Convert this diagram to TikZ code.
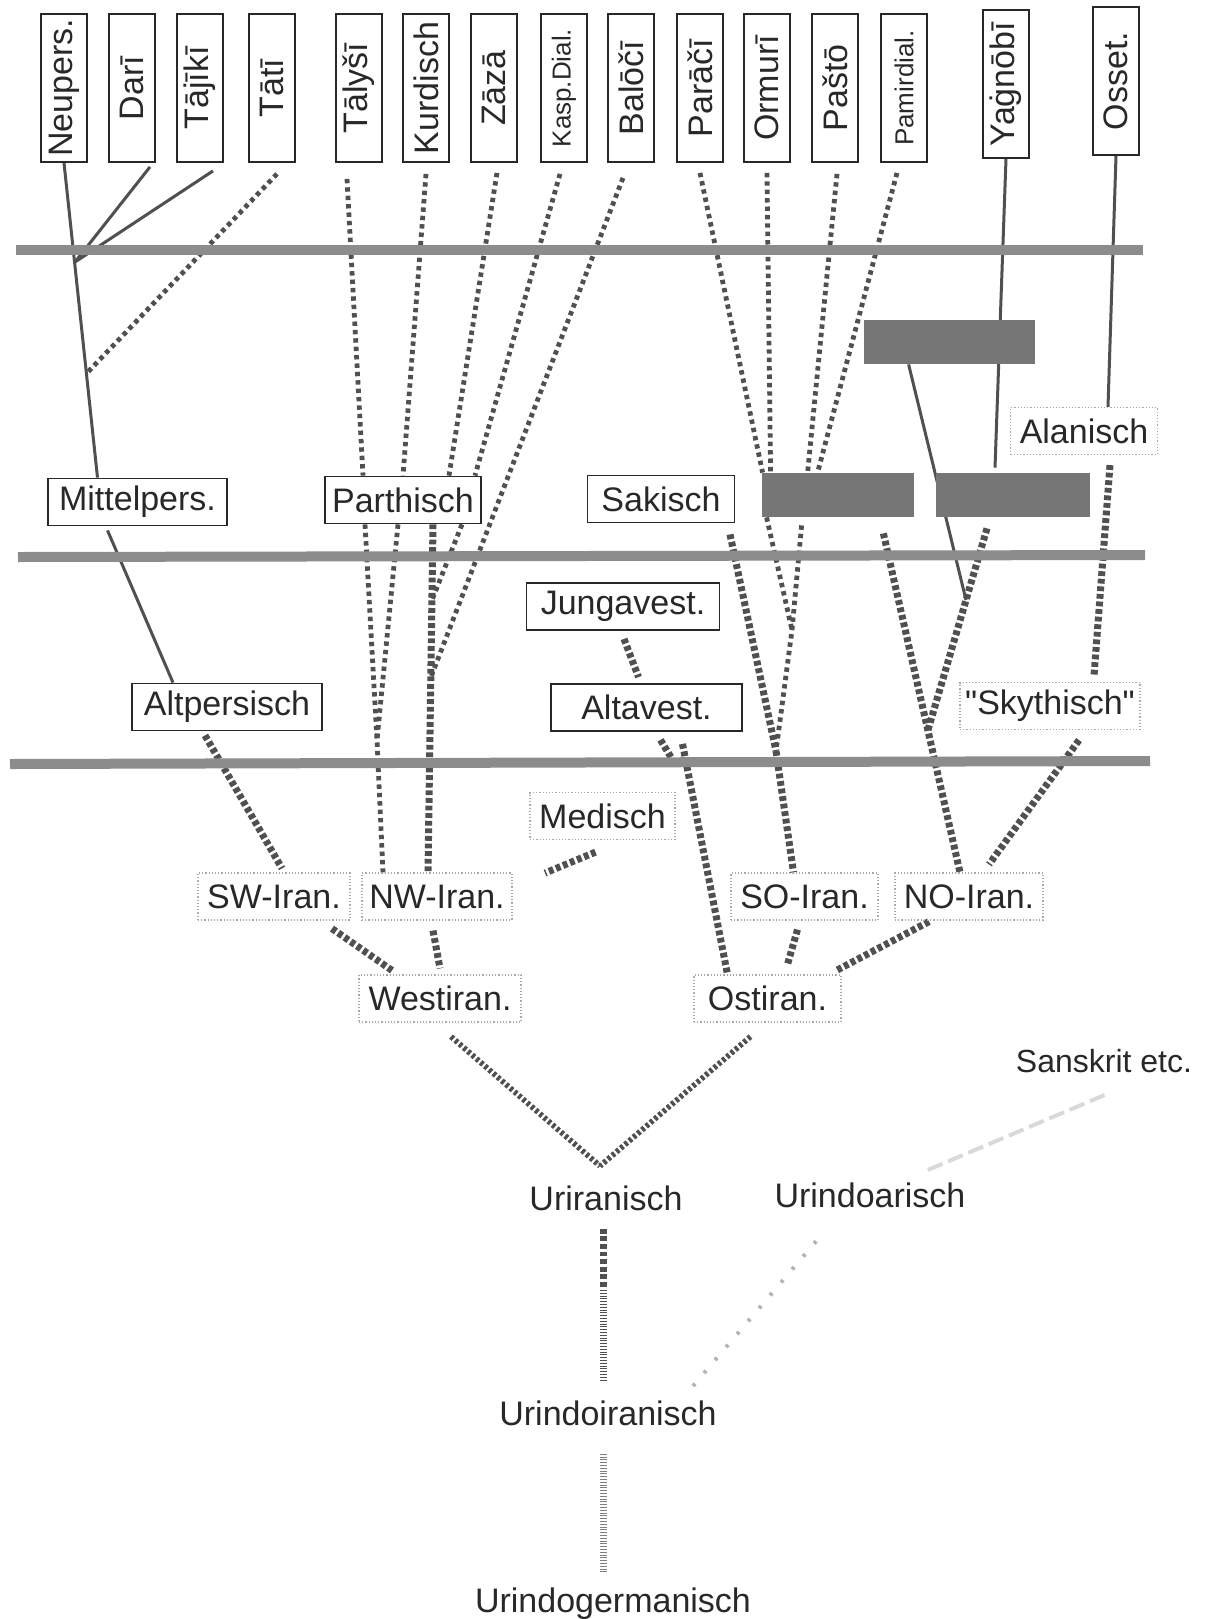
\documentclass[tikz,border=0pt]{standalone}
\usepackage{fontspec}
\setmainfont{Liberation Sans}
\newfontfamily\qfont{Liberation Sans}
\definecolor{linegray}{RGB}{80,80,80}
\definecolor{bandgray}{RGB}{140,140,140}
\definecolor{bargray}{RGB}{118,118,118}
\definecolor{textgray}{RGB}{40,40,40}
\definecolor{dotgray}{RGB}{170,170,170}
\pgfdeclarelayer{lines}
\pgfdeclarelayer{bands}
\pgfsetlayers{lines,bands,main}
\tikzset{
  lang/.style={text=textgray, font=\fontsize{17}{20}\selectfont, inner sep=0pt},
  small/.style={font=\fontsize{13}{15}\selectfont},
  tbox/.style={lang, draw=textgray, line width=0.9pt, rotate=90,
               minimum width=74pt, minimum height=23pt},
  lbox/.style={lang, draw=textgray, line width=0.9pt, minimum height=23.5pt},
  dbox/.style={lang, draw=dotgray, densely dotted, line width=0.6pt, minimum height=23.5pt},
  gbar/.style={fill=bargray, draw=none, inner sep=0pt, minimum height=22pt},
  band/.style={bandgray, line width=5pt},
  sline/.style={linegray, line width=1.5pt},
  fdot/.style={linegray, line width=2.4pt, dash pattern=on 2.2pt off 2pt},
  hdot/.style={linegray, line width=3.5pt, dash pattern=on 2.4pt off 1.4pt},
  mdot/.style={linegray, line width=2.8pt, dash pattern=on 1.6pt off 1.2pt},
  hatch/.style={linegray, line width=3.5pt, dash pattern=on 0.5pt off 0.9pt},
  sdot/.style={gray!60, line width=2pt, dash pattern=on 1.5pt off 7pt},
  faint/.style={gray!30, line width=2pt, dash pattern=on 8pt off 3pt},
}

\begin{document}
\begin{tikzpicture}[x=0.5pt, y=-0.5pt]
  \useasboundingbox (0,0) rectangle (1214,1619);
  % modern languages
  \node[tbox] (neup) at (64,88) {Neupers.};
  \node[tbox] (dari) at (132,88) {Darī};
  \node[tbox] (tajk) at (200,88) {Tājīkī};
  \node[tbox] (tati) at (272,88) {Tātī};
  \node[tbox] (taly) at (359,88) {Tālyšī};
  \node[tbox] (kurd) at (426,88) {Kurdisch};
  \node[tbox] (zaza) at (494,88) {Zāzā};
  \node[tbox,small] (kasp) at (564,88) {Kasp.Dial.};
  \node[tbox] (balo) at (631,88) {Balōčī};
  \node[tbox] (parc) at (700,88) {Parāčī};
  \node[tbox] (ormu) at (767,88) {Ormurī};
  \node[tbox] (past) at (835,88) {Paštō};
  \node[tbox,small] (pami) at (904,88) {Pamirdial.};
  \node[tbox] (yagn) at (1006,84) {Yaġnōbī};
  \node[tbox] (osse) at (1116,81) {Osset.};
  % middle and old stages
  \node[gbar, minimum width=85.5pt] (r1) at (949.5,342) {};
  \node[gbar, minimum width=76pt] (r2) at (838,495) {};
  \node[gbar, minimum width=77pt] (r3) at (1013,495) {};
  \node[lbox, minimum width=89.5pt] (mitt) at (137.5,502) {Mittelpers.};
  \node[lbox, minimum width=78pt] (part) at (403,500) {Parthisch};
  \node[lbox, minimum width=73.5pt] (saki) at (661,499) {Sakisch};
  \node[dbox, minimum width=73.5pt] (alan) at (1084,431) {Alanisch};
  \node[lbox, minimum width=96.5pt] (jung) at (623,606.5) {Jungavest.};
  \node[lbox, minimum width=95.5pt] (altv) at (646.5,707.5) {Altavest.};
  \node[lbox, minimum width=95pt] (altp) at (227,707) {Altpersisch};
  \node[dbox, minimum width=90pt] (skyt) at (1050,706) {\qfont"Skythisch"};
  \node[dbox, minimum width=72.5pt] (medi) at (602.5,816) {Medisch};
  \node[dbox, minimum width=76pt] (swir) at (274,896.5) {SW-Iran.};
  \node[dbox, minimum width=75pt] (nwir) at (437,896.5) {NW-Iran.};
  \node[dbox, minimum width=73.5pt] (soir) at (804.5,896.5) {SO-Iran.};
  \node[dbox, minimum width=74pt] (noir) at (969,896.5) {NO-Iran.};
  \node[dbox, minimum width=81pt] (west) at (440,998.5) {Westiran.};
  \node[dbox, minimum width=73.5pt] (osti) at (767.5,998.5) {Ostiran.};
  % proto languages
  \node[lang, anchor=base] (urir) at (606,1210) {Uriranisch};
  \node[lang, anchor=base] (uria) at (870,1207) {Urindoarisch};
  \node[lang, anchor=base, font=\fontsize{16}{19}\selectfont] (sans) at (1104,1072) {Sanskrit etc.};
  \node[lang, anchor=base] (uiir) at (608,1425) {Urindoiranisch};
  \node[lang, anchor=base] (uig) at (613,1612) {Urindogermanisch};
  % junctions
  \coordinate (npj) at (75,262);
  \coordinate (ttj) at (87,373);
  \coordinate (pj1) at (377,740);
  \coordinate (pj2) at (432,600);
  \coordinate (bj) at (431,677);
  \coordinate (rj) at (792,630);
  \coordinate (soj) at (776,751);
  \coordinate (noj) at (928,730);
  \coordinate (r1j) at (966,600);
  \coordinate (avs) at (672,759);
  \coordinate (mds) at (545,873);
  \coordinate (urj) at (600,1166);
  \coordinate (urm) at (603,1290);

  \begin{pgfonlayer}{lines}
    \draw[sline] (neup.west) -- ([xshift=-20pt]mitt.north);
    \draw[sline] ([xshift=9pt,yshift=-2pt]dari.west) -- (npj);
    \draw[sline] ([xshift=6.5pt,yshift=-4pt]tajk.west) -- (npj);
    \draw[fdot] ([xshift=2.5pt,yshift=-5.5pt]tati.west) -- (ttj);
    \draw[sline] ([xshift=-15pt,yshift=-2pt]mitt.south) -- ([xshift=-27pt]altp.north);
    \draw[hdot] ([xshift=-11pt,yshift=-2pt]altp.south) -- ([xshift=4pt,yshift=2pt]swir.north);

    \draw[fdot] ([xshift=-6pt,yshift=-8pt]taly.west) -- ([xshift=-20pt]part.north);
    \draw[fdot] ([yshift=-5.5pt]kurd.west) -- (part.north);
    \draw[fdot] ([xshift=1.5pt,yshift=-5pt]zaza.west) -- ([xshift=23pt]part.north);
    \draw[fdot] ([xshift=-2pt,yshift=-5.5pt]kasp.west) -- ([xshift=36pt]part.north);
    \draw[fdot] ([xshift=-4pt,yshift=-7.5pt]balo.west) -- (bj);
    \draw[fdot] ([xshift=-19pt]part.south) -- (pj1) -- ([xshift=-27pt]nwir.north);
    \draw[fdot] ([xshift=-2.5pt]part.south) -- (pj1);
    \draw[hdot] ([xshift=15pt]part.south) -- ([xshift=-4.5pt]nwir.north);
    \draw[fdot] ([xshift=29.5pt]part.south) -- (pj2);

    \draw[hdot] ([xshift=0.5pt,yshift=-4pt]jung.south) -- ([xshift=-4pt,yshift=3pt]altv.north);
    \draw[hdot] ([xshift=7pt,yshift=-4pt]altv.south) -- (avs);
    \draw[hdot] ([xshift=18pt,yshift=-6pt]altv.south) -- ([xshift=-20pt]osti.north);
    \draw[hdot] ([xshift=-3.5pt,yshift=-6pt]medi.south) -- (mds);

    \draw[fdot] ([yshift=-5pt]parc.west) -- ([xshift=0.5pt]r2.north west);
    \draw[fdot] ([yshift=-5pt]ormu.west) -- ([xshift=4.5pt]r2.north west);
    \draw[fdot] ([xshift=1pt,yshift=-5.5pt]past.west) -- ([xshift=23pt]r2.north west);
    \draw[fdot] ([xshift=-3.5pt,yshift=-5pt]pami.west) -- ([xshift=28pt]r2.north west);
    \draw[hdot] ([xshift=34.5pt,yshift=-5.5pt]saki.south) -- (soj);
    \draw[fdot] ([xshift=2.5pt]r2.south west) -- (rj);
    \draw[fdot] ([xshift=20pt,yshift=-4pt]r2.south west) -- (rj) -- (soj);
    \draw[hdot] (soj) -- ([xshift=-5.5pt]soir.north);
    \draw[hdot] ([xshift=-15.5pt,yshift=-8pt]r2.south east) -- ([xshift=-4.5pt]noir.north);
    \draw[hdot] ([xshift=-13pt,yshift=-5.5pt]r3.south) -- (noj);
    \draw[sline] ([xshift=22.5pt]r1.south west) -- (r1j);
    \draw[sline] (yagn.west) -- ([xshift=-9pt,yshift=2.5pt]r3.north);
    \draw[sline] (osse.west) -- ([xshift=12pt]alan.north);
    \draw[hdot] ([xshift=13pt,yshift=-5pt]alan.south) -- ([xshift=22pt,yshift=3pt]skyt.north);
    \draw[hdot] ([xshift=14.5pt,yshift=-5pt]skyt.south) -- ([xshift=10pt,yshift=4pt]noir.north);

    \draw[hdot] ([xshift=29pt,yshift=-4pt]swir.south) -- ([xshift=-24pt,yshift=2pt]west.north);
    \draw[hdot] ([xshift=-2pt,yshift=-5pt]nwir.south) -- ([yshift=3pt]west.north);
    \draw[hdot] ([xshift=-3.5pt,yshift=-4.5pt]soir.south) -- ([xshift=10pt,yshift=5pt]osti.north);
    \draw[hdot] ([xshift=-20pt,yshift=-0.5pt]noir.south) -- ([xshift=34.5pt,yshift=2pt]osti.north);
    \draw[mdot] ([xshift=5.5pt,yshift=-7pt]west.south) -- (urj);
    \draw[mdot] ([xshift=-8.5pt,yshift=-7pt]osti.south) -- (urj);

    \draw[hdot] ([xshift=-1.5pt,yshift=-9pt]urir.south) -- (urm);
    \draw[hatch] (urm) -- ([xshift=-2.5pt,yshift=9pt]uiir.north);
    \draw[hatch, gray] ([xshift=-2.5pt,yshift=-14pt]uiir.south) -- ([xshift=-5pt,yshift=7pt]uig.north);
    \draw[sdot] ([xshift=-12pt,yshift=7pt]uiir.north east) -- ([xshift=25pt,yshift=-12pt]uria.south west);
    \draw[faint] ([xshift=-19pt,yshift=6pt]uria.north east) -- ([xshift=3pt,yshift=-10pt]sans.south);
  \end{pgfonlayer}

  \begin{pgfonlayer}{bands}
    \draw[band] (16,250) -- (1143,250);
    \draw[band] (18,557) -- (1145,555);
    \draw[band] (10,764) -- (1150,761);
  \end{pgfonlayer}
\end{tikzpicture}
\end{document}
